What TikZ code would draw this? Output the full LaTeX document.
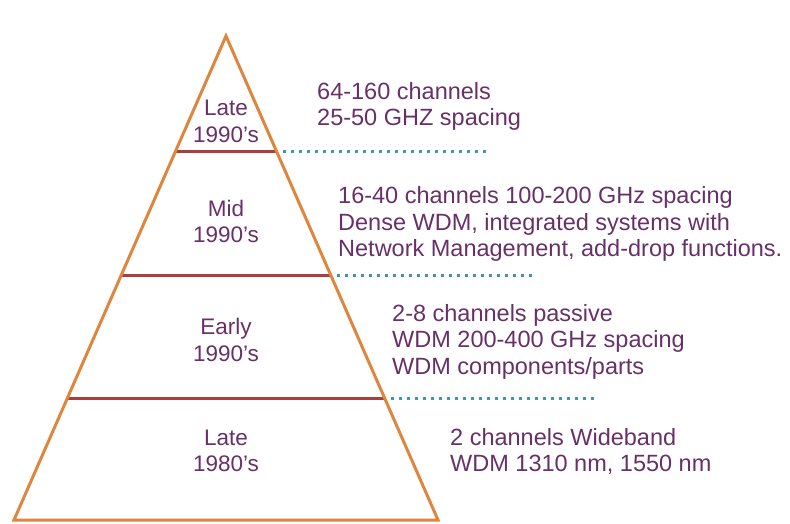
\documentclass[tikz,border=0pt]{standalone}
\usepackage{fontspec}
\setmainfont{Liberation Sans}
\definecolor{pyrorange}{RGB}{222,134,62}
\definecolor{layerred}{RGB}{168,64,62}
\definecolor{labelpurple}{RGB}{104,48,104}
\definecolor{dotblue}{RGB}{64,150,172}

\begin{document}
\begin{tikzpicture}[x=1pt, y=-1pt,
    era/.style={align=center, text=labelpurple, font=\fontsize{22.5}{26.5}\selectfont, inner sep=0pt},
    note/.style={align=left, anchor=west, text=labelpurple, font=\fontsize{23.5}{26.5}\selectfont, inner sep=0pt},
    layer/.style={draw=layerred, line width=3pt},
    guide/.style={draw=dotblue, line width=3pt, dash pattern=on 3pt off 5pt}]
    \useasboundingbox (0,0) rectangle (790,523);

    % pyramid corners
    \coordinate (apex) at (226,36);
    \coordinate (baseL) at (14,520);
    \coordinate (baseR) at (438,520);

    % layer ends on the pyramid sides
    \coordinate (layer1L) at (174.6,151);
    \coordinate (layer1R) at (277.4,151);
    \coordinate (layer2L) at (120.7,275);
    \coordinate (layer2R) at (331.3,275);
    \coordinate (layer3L) at (67.1,398);
    \coordinate (layer3R) at (384.9,398);

    % ends of the dotted guides
    \coordinate (guide1) at (488,151);
    \coordinate (guide2) at (537,275);
    \coordinate (guide3) at (595,398);

    \draw [layer] (layer1L) -- (layer1R);
    \draw [layer] (layer2L) -- (layer2R);
    \draw [layer] (layer3L) -- (layer3R);

    \draw [draw=pyrorange, line width=3pt] (apex) -- (baseR) -- (baseL) -- cycle;

    \draw [guide] ([xshift=6pt]layer1R) -- (guide1);
    \draw [guide] ([xshift=6pt]layer2R) -- (guide2);
    \draw [guide] ([xshift=6pt]layer3R) -- (guide3);

    % eras inside the pyramid
    \node [era] (late90) at (226,121.5) {Late\\1990's};
    \node [era] (mid90) at (226,221.5) {Mid\\1990's};
    \node [era] (early90) at (226,340) {Early\\1990's};
    \node [era] (late80) at (226,451) {Late\\1980's};

    % notes on the right
    \node [note] (late90note) at (317,106.5) {64-160 channels\\25-50 GHZ spacing};
    \node [note] (mid90note) at (338,224) {16-40 channels 100-200 GHz spacing\\Dense WDM, integrated systems with\\Network Management, add-drop functions.};
    \node [note] (early90note) at (392,341.5) {2-8 channels passive\\WDM 200-400 GHz spacing\\WDM components/parts};
    \node [note] (late80note) at (450,451.5) {2 channels Wideband\\WDM 1310 nm, 1550 nm};
\end{tikzpicture}
\end{document}
